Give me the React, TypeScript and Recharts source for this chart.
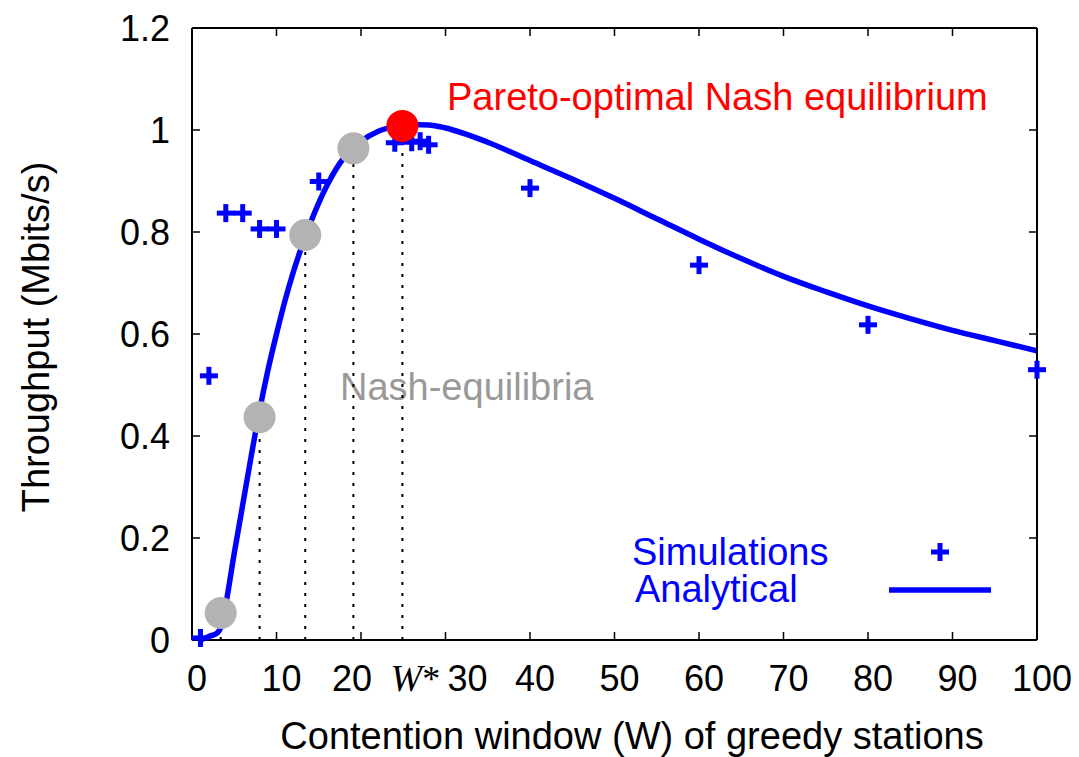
import { ComposedChart, Line, Scatter, XAxis, YAxis, ReferenceLine } from 'recharts';

// analytical curve
const curveX = [1, 2, 3, 3.5, 4, 5, 6, 7, 8, 9, 10, 11, 12, 13, 14, 15, 16, 17, 18, 19, 20, 22, 24, 26, 28, 30, 35, 40, 45, 50, 55, 60, 65, 70, 75, 80, 85, 90, 95, 100];
const curveY = [0, 0.007, 0.014, 0.03, 0.07, 0.17, 0.265, 0.36, 0.45, 0.53, 0.6, 0.665, 0.722, 0.772, 0.817, 0.857, 0.892, 0.922, 0.946, 0.964, 0.978, 0.997, 1.007, 1.011, 1.01, 1.004, 0.976, 0.94, 0.904, 0.866, 0.826, 0.786, 0.748, 0.713, 0.683, 0.655, 0.63, 0.607, 0.587, 0.567];

// simulations
const simX = [1, 2, 4, 6, 8, 10, 15, 24, 26, 27, 28, 40, 60, 80, 100];
const simY = [0.004, 0.518, 0.837, 0.837, 0.806, 0.806, 0.899, 0.975, 0.976, 0.978, 0.971, 0.886, 0.735, 0.618, 0.53];

// Nash equilibria + Pareto-optimal point
const nashX = [3.4, 8, 13.4, 19.1];
const nashY = [0.053, 0.437, 0.794, 0.964];
const paretoX = [24.9];
const paretoY = [1.008];

const xTicks = [0, 10, 20, 30, 40, 50, 60, 70, 80, 90, 100];
const yTicks = [0, 0.2, 0.4, 0.6, 0.8, 1, 1.2];

const curveData = curveX.map((x, i) => ({ x, y: curveY[i] }));
const simData = simX.map((x, i) => ({ x, y: simY[i] }));
const nashData = nashX.map((x, i) => ({ x, y: nashY[i] }));
const paretoData = paretoX.map((x, i) => ({ x, y: paretoY[i] }));
const wStar = paretoX[0];
const xLabelTicks = [...xTicks, wStar].sort((a, b) => a - b);

const FONT = '"Liberation Sans", Arial, sans-serif';
const BLUE = '#0000ff';

// gnuplot nudged some labels sideways
const tickShift: Record<number, number> = { 20: -9, 30: 22 };

const XTick = (props: any) => {
  const { x, y, payload } = props;
  const v = payload.value;
  if (v === wStar) {
    return (
      <text x={x + 13} y={y} dy="0.71em" textAnchor="middle" fontSize={36} fontFamily='"Liberation Serif", serif' fill="#000">
        <tspan fontStyle="italic" fontSize={38}>W</tspan>
        <tspan>*</tspan>
      </text>
    );
  }
  const dx = tickShift[v] ?? 5;
  return (
    <text x={x + dx} y={y} dy="0.71em" textAnchor="middle" fontSize={36} fontFamily={FONT} fill="#000">
      {v}
    </text>
  );
};

const NoLabel = () => <g />;

const Plus = (props: any) => {
  const { cx, cy } = props;
  return (
    <g fill={BLUE}>
      <rect x={cx - 9} y={cy - 2.5} width={18} height={5} />
      <rect x={cx - 2.5} y={cy - 9} width={5} height={18} />
    </g>
  );
};

const Dot = (color: string) => (props: any) => <circle cx={props.cx} cy={props.cy} r={16} fill={color} />;

const tickLineStyle = { stroke: '#000', strokeWidth: 1.5 };
const frameStyle = { stroke: '#000', strokeWidth: 2 };

const App = () => {
  return (
    <div style={{ position: 'absolute', left: 0, top: 0, background: '#fff' }}>
      <ComposedChart width={1079} height={757} margin={{ top: 28, right: 42, bottom: 0, left: 0 }}>
        <XAxis
          xAxisId="x"
          dataKey="x"
          type="number"
          domain={[0, 100]}
          ticks={xLabelTicks}
          interval={0}
          tick={<XTick />}
          tickLine={false}
          tickSize={0}
          tickMargin={25}
          height={117}
          axisLine={frameStyle}
        />
        {/* inward tick marks + frame */}
        <XAxis xAxisId="xb" dataKey="x" type="number" domain={[0, 100]} ticks={xTicks} interval={0} mirror tick={NoLabel} tickSize={8} tickLine={tickLineStyle} axisLine={false} height={1} />
        <XAxis xAxisId="xt" dataKey="x" orientation="top" type="number" domain={[0, 100]} ticks={xTicks} interval={0} mirror tick={NoLabel} tickSize={8} tickLine={tickLineStyle} axisLine={frameStyle} height={1} />
        <YAxis
          yAxisId="y"
          dataKey="y"
          type="number"
          domain={[0, 1.2]}
          ticks={yTicks}
          interval={0}
          width={192}
          tickLine={false}
          tickSize={0}
          tickMargin={22}
          axisLine={frameStyle}
          tick={{ fontSize: 36, fill: '#000', fontFamily: FONT }}
        />
        <YAxis yAxisId="yl" dataKey="y" type="number" domain={[0, 1.2]} ticks={yTicks} interval={0} mirror tick={NoLabel} tickSize={8} tickLine={tickLineStyle} axisLine={false} width={1} />
        <YAxis yAxisId="yr" dataKey="y" orientation="right" type="number" domain={[0, 1.2]} ticks={yTicks} interval={0} mirror tick={NoLabel} tickSize={8} tickLine={tickLineStyle} axisLine={frameStyle} width={1} />

        {/* invisible series so the frame axes get a scale */}
        <Scatter xAxisId="xb" yAxisId="yl" data={simData} shape={NoLabel} isAnimationActive={false} />
        <Scatter xAxisId="xt" yAxisId="yr" data={simData} shape={NoLabel} isAnimationActive={false} />

        {/* dotted drops from each equilibrium */}
        {[...nashData, ...paretoData].map((p, i) => (
          <ReferenceLine
            key={i}
            xAxisId="x"
            yAxisId="y"
            segment={[{ x: p.x, y: 0 }, { x: p.x, y: p.y }]}
            stroke="#000"
            strokeWidth={2}
            strokeDasharray="3 8"
          />
        ))}

        <Scatter xAxisId="x" yAxisId="y" data={simData} shape={<Plus />} isAnimationActive={false} />
        <Line xAxisId="x" yAxisId="y" data={curveData} dataKey="y" type="monotone" stroke={BLUE} strokeWidth={5.5} dot={false} activeDot={false} isAnimationActive={false} />
        <Scatter xAxisId="x" yAxisId="y" data={nashData} shape={Dot('#b3b3b3')} isAnimationActive={false} />
        <Scatter xAxisId="x" yAxisId="y" data={paretoData} shape={Dot('#ff0000')} isAnimationActive={false} />

        {/* titles and annotations */}
        <text x={632} y={749} textAnchor="middle" fontSize={38} fontFamily={FONT} fill="#000">
          Contention window (W) of greedy stations
        </text>
        <text x={49} y={337} transform="rotate(-90 49 337)" textAnchor="middle" fontSize={38} fontFamily={FONT} fill="#000">
          Throughput (Mbits/s)
        </text>
        <text x={447} y={110} fontSize={38} fontFamily={FONT} fill="#ff0000">
          Pareto-optimal Nash equilibrium
        </text>
        <text x={340} y={400} fontSize={38} fontFamily={FONT} fill="#999999">
          Nash-equilibria
        </text>

        {/* legend */}
        <text x={632} y={565} fontSize={38} fontFamily={FONT} fill={BLUE}>Simulations</text>
        <text x={635} y={602} fontSize={38} fontFamily={FONT} fill={BLUE}>Analytical</text>
        <Plus cx={940} cy={552} />
        <line x1={889} y1={590} x2={991} y2={590} stroke={BLUE} strokeWidth={5.5} />
      </ComposedChart>
    </div>
  );
};

export default App;
